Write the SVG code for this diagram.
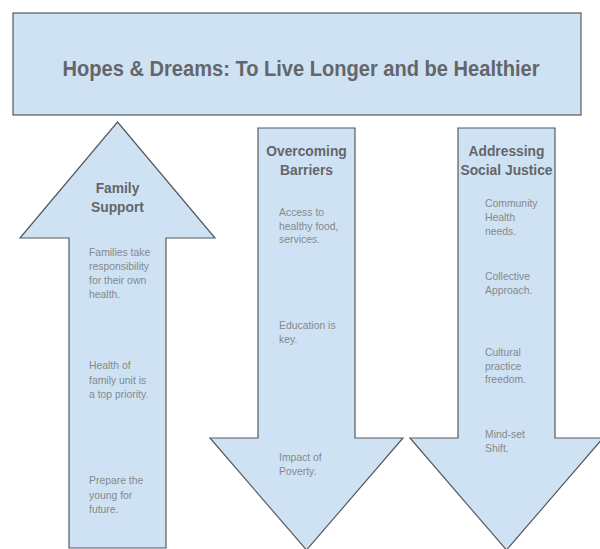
<svg xmlns="http://www.w3.org/2000/svg" width="600" height="549" viewBox="0 0 600 549">
  <style>
    .shape { fill: #cfe2f3; stroke: #555a60; stroke-width: 1.2; stroke-linejoin: miter; }
    .title { font-family: "Liberation Sans", Arial, sans-serif; font-weight: bold; font-size: 22px; fill: #63666a; text-anchor: middle; }
    .head { font-family: "Liberation Sans", Arial, sans-serif; font-weight: bold; font-size: 13.8px; fill: #63666a; text-anchor: middle; }
    .body { font-family: "Liberation Sans", Arial, sans-serif; font-size: 10.4px; fill: #85898d; }
  </style>
  <rect width="600" height="549" fill="#ffffff"/>

  <!-- Banner -->
  <g id="banner">
    <rect class="shape" x="13" y="13" width="568" height="102"/>
    <text class="title" x="301" y="76" textLength="477" lengthAdjust="spacingAndGlyphs">Hopes &amp; Dreams: To Live Longer and be Healthier</text>
  </g>

  <!-- Up arrow: Family Support -->
  <g id="family-support">
    <polygon class="shape" points="117.5,122 215,238 166,238 166,548 69,548 69,238 20,238"/>
    <text class="head" x="117.5" y="193">Family</text>
    <text class="head" x="117.5" y="212">Support</text>
    <text class="body">
      <tspan x="89" y="256">Families take</tspan>
      <tspan x="89" y="270">responsibility</tspan>
      <tspan x="89" y="284">for their own</tspan>
      <tspan x="89" y="298">health.</tspan>
    </text>
    <text class="body">
      <tspan x="89" y="369">Health of</tspan>
      <tspan x="89" y="383.5">family unit is</tspan>
      <tspan x="89" y="398">a top priority.</tspan>
    </text>
    <text class="body">
      <tspan x="89" y="484">Prepare the</tspan>
      <tspan x="89" y="498.5">young for</tspan>
      <tspan x="89" y="513">future.</tspan>
    </text>
  </g>

  <!-- Down arrow: Overcoming Barriers -->
  <g id="overcoming-barriers">
    <polygon class="shape" points="258,128 355,128 355,438 403,438 306.5,550 210,438 258,438"/>
    <text class="head" x="306.5" y="156">Overcoming</text>
    <text class="head" x="306.5" y="175">Barriers</text>
    <text class="body">
      <tspan x="279" y="216">Access to</tspan>
      <tspan x="279" y="229.5">healthy food,</tspan>
      <tspan x="279" y="243">services.</tspan>
    </text>
    <text class="body">
      <tspan x="279" y="329">Education is</tspan>
      <tspan x="279" y="343">key.</tspan>
    </text>
    <text class="body">
      <tspan x="279" y="461">Impact of</tspan>
      <tspan x="279" y="475">Poverty.</tspan>
    </text>
  </g>

  <!-- Down arrow: Addressing Social Justice -->
  <g id="social-justice">
    <polygon class="shape" points="458,128 555,128 555,438 603,438 506.5,550 410,438 458,438"/>
    <text class="head" x="506.5" y="156">Addressing</text>
    <text class="head" x="506.5" y="175">Social Justice</text>
    <text class="body">
      <tspan x="485" y="207">Community</tspan>
      <tspan x="485" y="221">Health</tspan>
      <tspan x="485" y="235">needs.</tspan>
    </text>
    <text class="body">
      <tspan x="485" y="280">Collective</tspan>
      <tspan x="485" y="294">Approach.</tspan>
    </text>
    <text class="body">
      <tspan x="485" y="356">Cultural</tspan>
      <tspan x="485" y="369.5">practice</tspan>
      <tspan x="485" y="383">freedom.</tspan>
    </text>
    <text class="body">
      <tspan x="485" y="438">Mind-set</tspan>
      <tspan x="485" y="452">Shift.</tspan>
    </text>
  </g>

  <!-- Connectors (none drawn) -->
  <g id="connectors"/>
</svg>
